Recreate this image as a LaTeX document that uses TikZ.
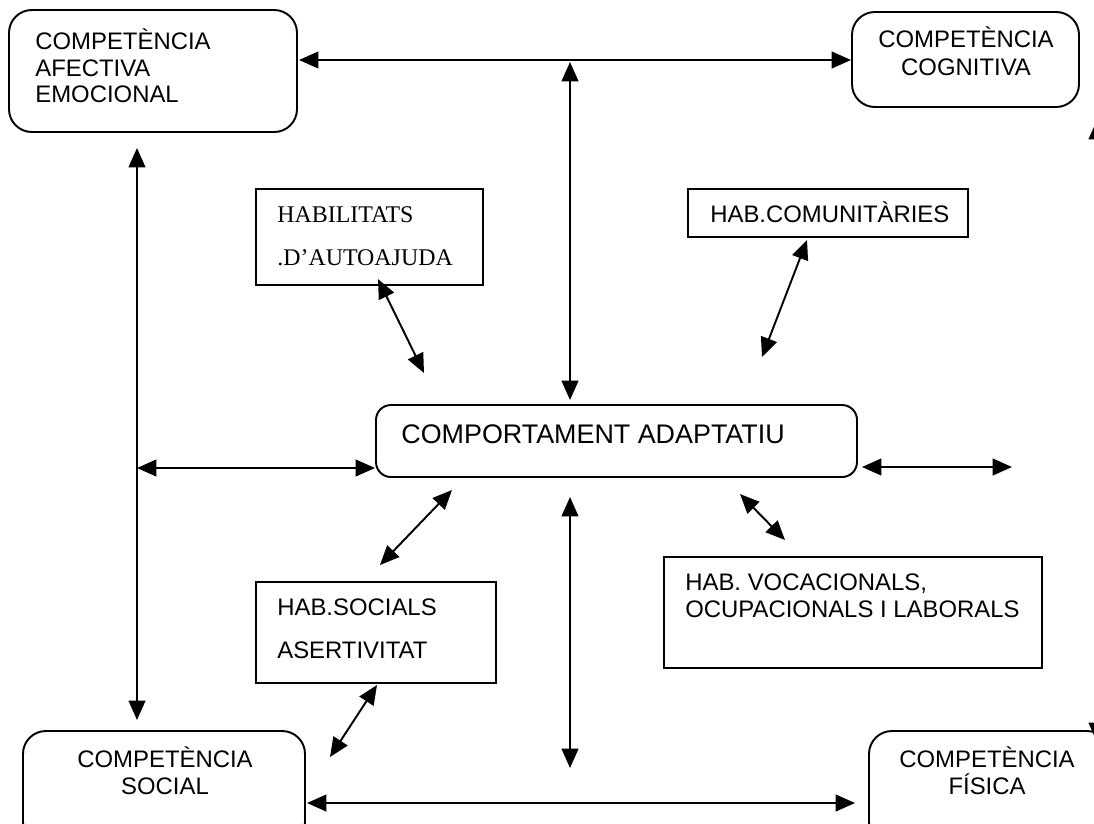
\documentclass[tikz,border=0pt]{standalone}
\usepackage{fontspec}
\setmainfont{Liberation Sans}
\newfontfamily\timesfam{Liberation Serif}
\usetikzlibrary{arrows.meta,fit}
\begin{document}
\begin{tikzpicture}[x=0.02cm,y=-0.02cm,
  rbox/.style={draw,line width=1.1pt,rounded corners=13pt,inner sep=0pt},
  sbox/.style={draw,line width=1.1pt,rounded corners=8.5pt,inner sep=0pt},
  pbox/.style={draw,line width=1pt,inner sep=0pt},
  lbl/.style={inner sep=0pt,font=\fontsize{13.6pt}{15.3pt}\selectfont},
  lblw/.style={lbl,anchor=base west},
  lblc/.style={lbl,anchor=base},
  dbl/.style={line width=1.1pt,{Triangle[length=11pt,width=9.5pt]}-{Triangle[length=11pt,width=9.5pt]}}]
\path[use as bounding box] (0,0) rectangle (1094,823);
\clip (0,0) rectangle (1094,823);
% boxes
\node[rbox,fit={(9,10)(297,132)}] (ae) {};
\node[lblw] (ae1) at (35,49) {COMPETÈNCIA};
\node[lblw] (ae2) at (35,76) {AFECTIVA};
\node[lblw] (ae3) at (35,102) {EMOCIONAL};
\node[rbox,fit={(852,12)(1079,107)}] (cog) {};
\node[lblc] (cog1) at (966,47) {COMPETÈNCIA};
\node[lblc] (cog2) at (966,75) {COGNITIVA};
\node[rbox,fit={(23,731)(305,845)}] (soc) {};
\node[lblc] (soc1) at (165,767) {COMPETÈNCIA};
\node[lblc] (soc2) at (165,794) {SOCIAL};
\node[rbox,fit={(869,731)(1110,845)}] (fis) {};
\node[lblc] (fis1) at (987,767) {COMPETÈNCIA};
\node[lblc] (fis2) at (987,794) {FÍSICA};
\node[pbox,fit={(256,189)(483,285)}] (aut) {};
\node[lblw,font=\timesfam\fontsize{13.6pt}{15.3pt}\selectfont] (aut1) at (277,222) {HABILITATS};
\node[lblw,font=\timesfam\fontsize{13.6pt}{15.3pt}\selectfont] (aut2) at (277,265) {.D’AUTOAJUDA};
\node[pbox,fit={(688,189)(968,237)}] (com) {};
\node[lblw] (com1) at (710,222) {HAB.COMUNITÀRIES};
\node[sbox,fit={(376,405)(857,477)}] (ca) {};
\node[lblw,font=\fontsize{15.3pt}{17pt}\selectfont] (ca1) at (401,443) {COMPORTAMENT ADAPTATIU};
\node[pbox,fit={(256,582)(496,683)}] (hs) {};
\node[lblw] (hs1) at (277,615) {HAB.SOCIALS};
\node[lblw] (hs2) at (277,658) {ASERTIVITAT};
\node[pbox,fit={(664,557)(1042,668)}] (voc) {};
\node[lblw] (voc1) at (685,590) {HAB. VOCACIONALS,};
\node[lblw] (voc2) at (685,617) {OCUPACIONALS I LABORALS};
% arrow end points
\coordinate (t1) at (299,60);  \coordinate (t2) at (851,60);
\coordinate (v1) at (570,62);  \coordinate (v2) at (570,400);
\coordinate (l1) at (137,148); \coordinate (l2) at (137,720);
\coordinate (h1) at (137,468); \coordinate (h2) at (375,468);
\coordinate (r1) at (862,467); \coordinate (r2) at (1012,467);
\coordinate (b1) at (307,803); \coordinate (b2) at (855,803);
\coordinate (w1) at (570,497); \coordinate (w2) at (570,768);
\coordinate (a1) at (378,279); \coordinate (a2) at (424,373);
\coordinate (c1) at (807,240); \coordinate (c2) at (762,357);
\coordinate (s1) at (380,565); \coordinate (s2) at (452,490);
\coordinate (d1) at (377,685); \coordinate (d2) at (330,757);
\coordinate (o1) at (740,494); \coordinate (o2) at (785,540);
\coordinate (x1) at (1097,120); \coordinate (x2) at (1097,742);
% arrows
\draw[dbl] (t1) -- (t2);
\draw[dbl] (v1) -- (v2);
\draw[dbl] (l1) -- (l2);
\draw[dbl] (h1) -- (h2);
\draw[dbl] (r1) -- (r2);
\draw[dbl] (b1) -- (b2);
\draw[dbl] (w1) -- (w2);
\draw[dbl] (a1) -- (a2);
\draw[dbl] (c1) -- (c2);
\draw[dbl] (s1) -- (s2);
\draw[dbl] (d1) -- (d2);
\draw[dbl] (o1) -- (o2);
\draw[dbl] (x1) -- (x2);
\end{tikzpicture}
\end{document}
